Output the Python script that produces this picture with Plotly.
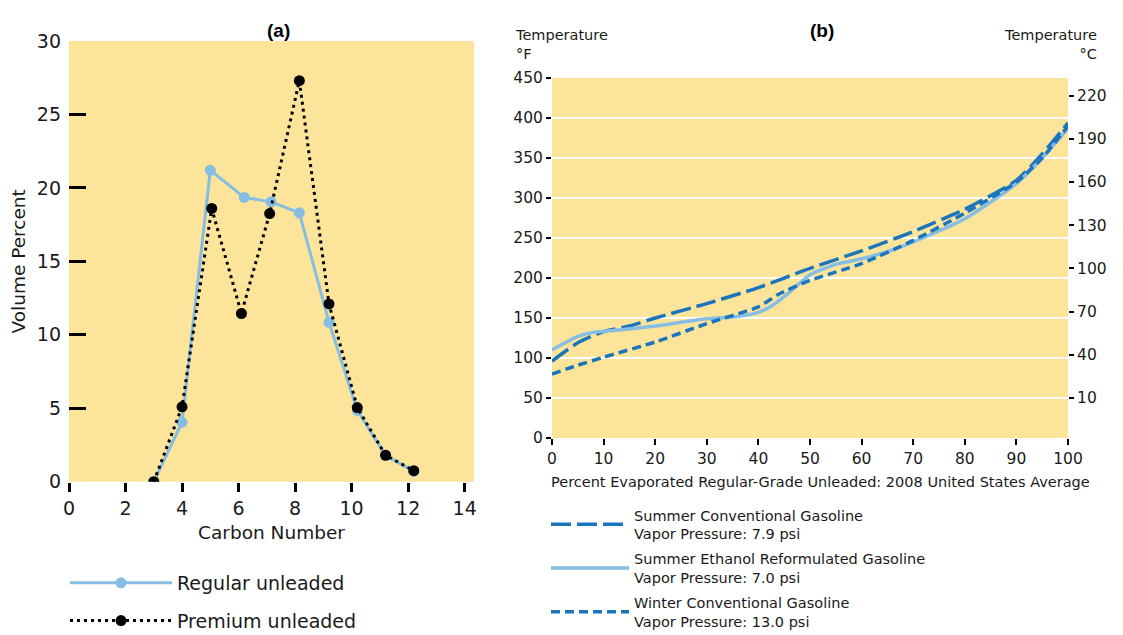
import plotly.graph_objects as go

# ---------------- Data: panel (a) ----------------
carbon_regular = [3, 4, 5, 6.2, 7.15, 8.15, 9.2, 10.2, 11.2, 12.2]
regular_unleaded = [0, 4.05, 21.2, 19.35, 19.05, 18.3, 10.85, 4.85, 1.8, 0.7]
carbon_premium = [3, 4, 5.05, 6.1, 7.1, 8.15, 9.2, 10.2, 11.2, 12.2]
premium_unleaded = [0, 5.1, 18.6, 11.45, 18.25, 27.3, 12.1, 5.05, 1.8, 0.75]
a_xticks = [0, 2, 4, 6, 8, 10, 12, 14]
a_yticks = [0, 5, 10, 15, 20, 25, 30]

# ---------------- Data: panel (b) ----------------
pct_summer = [0, 5, 10, 15, 20, 30, 40, 50, 60, 70, 80, 90, 95, 100]
summer_conventional = [96, 119, 133, 140, 150, 168, 188, 212, 234, 258, 286, 322, 355, 394]
pct_ethanol = [0, 5, 8, 13, 20, 30, 36, 40, 43, 46, 50, 55, 60, 66, 70, 80, 90, 95, 100]
summer_ethanol = [110, 127, 132, 135, 140, 149, 152, 157, 167, 182, 204, 217, 224, 235, 245, 274, 318, 350, 387]
pct_winter = [0, 5, 10, 20, 30, 40, 44, 50, 60, 70, 80, 90, 95, 100]
winter_conventional = [80, 91, 101, 120, 143, 164, 180, 197, 218, 247, 281, 320, 350, 390]
b_xticks = list(range(0, 101, 10))
b_yticks_f = list(range(0, 451, 50))
b_yticks_c = list(range(10, 221, 30))

YELLOW = "#FDE49B"
LIGHT_BLUE = "#86BDE3"
DARK_BLUE = "#1A75BC"
FONT = "DejaVu Sans"
TITLE_FONT = "Liberation Sans"
TXT = "#1a1a1a"

fig = go.Figure()

# panel (a)
fig.add_trace(go.Scatter(
    x=carbon_regular, y=regular_unleaded, mode="lines+markers",
    name="Regular unleaded", line=dict(color=LIGHT_BLUE, width=3),
    marker=dict(color=LIGHT_BLUE, size=11), xaxis="x", yaxis="y",
    legend="legend", legendgroup="a1"))
fig.add_trace(go.Scatter(
    x=carbon_premium, y=premium_unleaded, mode="lines+markers",
    name="Premium unleaded", line=dict(color="black", width=3, dash="3px,4px"),
    marker=dict(color="black", size=11), xaxis="x", yaxis="y",
    legend="legend", legendgroup="a2"))

# panel (b)
fig.add_trace(go.Scatter(
    x=pct_summer, y=summer_conventional, mode="lines",
    name="Summer Conventional Gasoline<br>Vapor Pressure: 7.9 psi",
    line=dict(color=DARK_BLUE, width=3.5, dash="20px,6px", shape="spline", smoothing=0.6),
    xaxis="x2", yaxis="y2", legend="legend2", legendgroup="b1"))
fig.add_trace(go.Scatter(
    x=pct_ethanol, y=summer_ethanol, mode="lines",
    name="Summer Ethanol Reformulated Gasoline<br>Vapor Pressure: 7.0 psi",
    line=dict(color=LIGHT_BLUE, width=3.5, shape="spline", smoothing=0.6),
    xaxis="x2", yaxis="y2", legend="legend2", legendgroup="b2"))
fig.add_trace(go.Scatter(
    x=pct_winter, y=winter_conventional, mode="lines",
    name="Winter Conventional Gasoline<br>Vapor Pressure: 13.0 psi",
    line=dict(color=DARK_BLUE, width=3.5, dash="9px,5px", shape="spline", smoothing=0.6),
    xaxis="x2", yaxis="y2", legend="legend2", legendgroup="b3"))
# invisible trace to activate Celsius axis
fig.add_trace(go.Scatter(
    x=[None], y=[None], xaxis="x2", yaxis="y3", showlegend=False, hoverinfo="skip"))

W, H = 1123, 635
def px_x(p):
    return p / W
def px_y(p):
    return 1 - p / H

f_lo = 0
f_hi = 450
c_lo = (f_lo - 32) * 5 / 9
c_hi = (f_hi - 32) * 5 / 9

fig.update_layout(
    width=W, height=H,
    margin=dict(l=0, r=0, t=0, b=0, autoexpand=False),
    paper_bgcolor="white",
    plot_bgcolor=YELLOW,
    font=dict(family=FONT, color=TXT),
    xaxis=dict(
        domain=[px_x(69), px_x(474)], range=[0, 14.33],
        tickvals=a_xticks, ticks="outside", ticklen=9, tickwidth=2.5, tickcolor="black",
        showgrid=False, zeroline=False, showline=False, automargin=False,
        tickfont=dict(size=19, family=FONT),
        title=dict(text="Carbon Number", font=dict(size=18.5, family=FONT), standoff=8),
        anchor="y"),
    yaxis=dict(
        domain=[px_y(481.7), px_y(41)], range=[0, 30],
        tickvals=a_yticks, ticks="inside", ticklen=17, tickwidth=2.5, tickcolor="black",
        ticklabelstandoff=7,
        showgrid=False, zeroline=False, showline=False, automargin=False,
        tickfont=dict(size=19, family=FONT),
        title=dict(text="Volume Percent", font=dict(size=18.5, family=FONT), standoff=6),
        anchor="x"),
    xaxis2=dict(
        domain=[px_x(552), px_x(1068)], range=[0, 100],
        tickvals=b_xticks, ticks="outside", ticklen=6, tickwidth=1.5, tickcolor="black",
        showgrid=False, zeroline=False, showline=False, automargin=False,
        tickfont=dict(size=15.5, family=FONT),
        anchor="y2"),
    yaxis2=dict(
        domain=[px_y(438), px_y(78)], range=[f_lo, f_hi],
        tickvals=b_yticks_f, ticks="outside", ticklen=5, tickwidth=1.5, tickcolor="black",
        showgrid=True, gridcolor="white", gridwidth=1.5, zeroline=False, showline=False,
        automargin=False,
        tickfont=dict(size=15.5, family=FONT),
        anchor="x2"),
    yaxis3=dict(
        overlaying="y2", side="right", range=[c_lo, c_hi],
        tickvals=b_yticks_c, ticks="outside", ticklen=5, tickwidth=1.5, tickcolor="black",
        showgrid=False, zeroline=False, showline=False, automargin=False,
        tickfont=dict(size=15.5, family=FONT),
        anchor="x2"),
    legend=dict(
        x=px_x(65), y=px_y(564), xanchor="left", yanchor="top",
        bgcolor="rgba(0,0,0,0)", font=dict(size=19, family=FONT),
        traceorder="grouped", tracegroupgap=10, itemwidth=102),
    legend2=dict(
        x=px_x(546), y=px_y(499), xanchor="left", yanchor="top",
        bgcolor="rgba(0,0,0,0)", font=dict(size=14.5, family=FONT),
        traceorder="grouped", tracegroupgap=3, itemwidth=78),
    showlegend=True,
    annotations=[
        dict(text="<b>(a)</b>", x=px_x(265), y=px_y(18), xref="paper", yref="paper",
             showarrow=False, font=dict(size=19, family=TITLE_FONT, color="black")),
        dict(text="<b>(b)</b>", x=px_x(836), y=px_y(18), xref="paper", yref="paper",
             showarrow=False, font=dict(size=19, family=TITLE_FONT, color="black")),
        dict(text="Temperature<br>°F", x=px_x(513), y=px_y(25), xref="paper", yref="paper",
             xanchor="left", yanchor="top", align="left", showarrow=False,
             font=dict(size=14.5, family=FONT)),
        dict(text="Temperature<br>°C", x=px_x(1099), y=px_y(25), xref="paper", yref="paper",
             xanchor="right", yanchor="top", align="right", showarrow=False,
             font=dict(size=14.5, family=FONT)),
        dict(text="Percent Evaporated Regular-Grade Unleaded: 2008 United States Average",
             x=px_x(549), y=px_y(482), xref="paper", yref="paper",
             xanchor="left", yanchor="middle", showarrow=False,
             font=dict(size=14.5, family=FONT)),
    ],
)

fig.write_html("out.html")
